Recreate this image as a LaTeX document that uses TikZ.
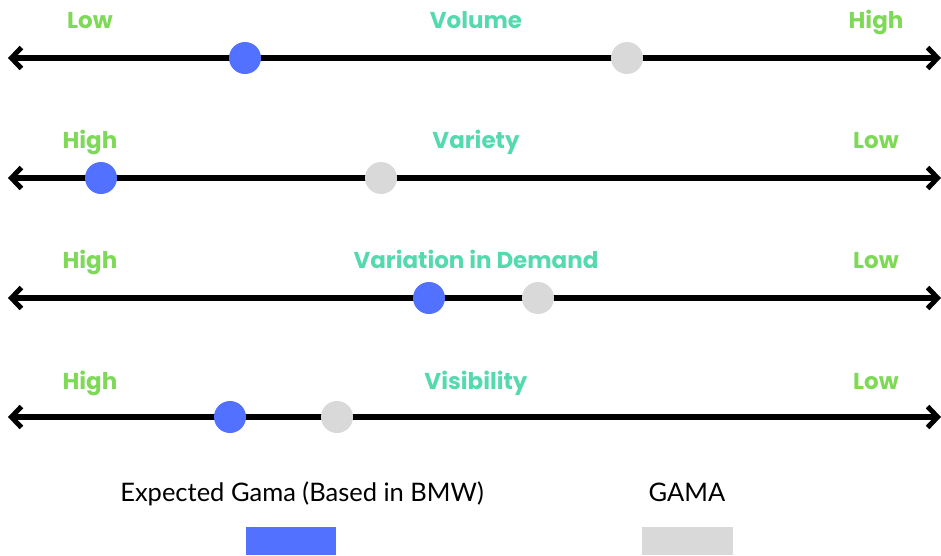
\documentclass[tikz,border=0pt]{standalone}
\usepackage{fontspec}
\setmainfont{Poppins}
\newfontfamily\legendfont{Lato}
\usetikzlibrary{arrows.meta}
\definecolor{endgreen}{HTML}{7ED957}
\definecolor{titleteal}{HTML}{55D9AE}
\definecolor{dotblue}{HTML}{5271FF}
\definecolor{dotgray}{HTML}{D9D9D9}
\tikzset{
  scaleline/.style={line width=5.4pt, {Straight Barb[length=10pt,width=21pt,line width=5pt]}-{Straight Barb[length=10pt,width=21pt,line width=5pt]}},
  endlabel/.style={text=endgreen, anchor=base, font=\fontsize{23}{27}\selectfont\bfseries},
  titlelabel/.style={text=titleteal, anchor=base, font=\fontsize{23}{27}\selectfont\bfseries},
  bluedot/.style={circle, fill=dotblue, minimum size=32pt, inner sep=0pt},
  graydot/.style={circle, fill=dotgray, minimum size=32pt, inner sep=0pt},
  legendtext/.style={anchor=base, font=\legendfont\fontsize{25.5}{30}\selectfont},
}
\begin{document}
\begin{tikzpicture}[x=1pt, y=-1pt]
\useasboundingbox (0,0) rectangle (941,555);

% Volume
\node[endlabel] (lowA) at (90,28) {Low};
\node[titlelabel] (volume) at (476,28) {Volume};
\node[endlabel] (highA) at (876,28) {High};
\coordinate (leftA) at (8,58);
\coordinate (rightA) at (941,58);
\draw[scaleline] (leftA) -- (rightA);
\node[bluedot] (blueA) at (245,58) {};
\node[graydot] (grayA) at (627,58) {};

% Variety
\node[endlabel] (highB) at (90,148) {High};
\node[titlelabel] (variety) at (476,148) {Variety};
\node[endlabel] (lowB) at (876,148) {Low};
\coordinate (leftB) at (8,178);
\coordinate (rightB) at (941,178);
\draw[scaleline] (leftB) -- (rightB);
\node[bluedot] (blueB) at (101,178) {};
\node[graydot] (grayB) at (381,178) {};

% Variation in Demand
\node[endlabel] (highC) at (90,268) {High};
\node[titlelabel] (demand) at (476,268) {Variation in Demand};
\node[endlabel] (lowC) at (876,268) {Low};
\coordinate (leftC) at (8,298);
\coordinate (rightC) at (941,298);
\draw[scaleline] (leftC) -- (rightC);
\node[bluedot] (blueC) at (429,298) {};
\node[graydot] (grayC) at (538,298) {};

% Visibility
\node[endlabel] (highD) at (90,389) {High};
\node[titlelabel] (visibility) at (476,389) {Visibility};
\node[endlabel] (lowD) at (876,389) {Low};
\coordinate (leftD) at (8,417);
\coordinate (rightD) at (941,417);
\draw[scaleline] (leftD) -- (rightD);
\node[bluedot] (blueD) at (230,417) {};
\node[graydot] (grayD) at (337,417) {};

% Legend
\node[legendtext] (expected) at (302,501) {Expected Gama (Based in BMW)};
\node[legendtext] (gama) at (687,501) {GAMA};
\fill[dotblue] (246,527) rectangle (336,555);
\fill[dotgray] (642,527) rectangle (733,555);
\end{tikzpicture}
\end{document}
